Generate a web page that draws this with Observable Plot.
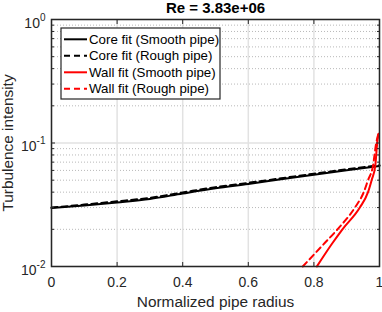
<!DOCTYPE html>
<html><head><meta charset="utf-8">
<script src="https://cdn.jsdelivr.net/npm/d3@7"></script>
<script src="https://cdn.jsdelivr.net/npm/@observablehq/plot@0.6"></script>
<style>body{margin:0;background:#fff;} #chart{width:382px;height:312px;}</style>
</head><body><div id="chart"></div>
<script>
const title = "Re = 3.83e+06";
const xLabel = "Normalized pipe radius";
const yLabel = "Turbulence intensity";
const xTicks = [0, 0.2, 0.4, 0.6, 0.8, 1];
const xTickLabels = ["0", "0.2", "0.4", "0.6", "0.8", "1"];
const yTicks = [0.01, 0.1, 1];
const yTickExponents = ["-2", "-1", "0"];
const yMinorTicks = [0.02,0.03,0.04,0.05,0.06,0.07,0.08,0.09,0.2,0.3,0.4,0.5,0.6,0.7,0.8,0.9];

const coreR = [0, 0.1, 0.2, 0.3, 0.4, 0.5, 0.6, 0.7, 0.8, 0.9, 1.0];
const coreSmooth = [0.0298, 0.0312, 0.0330, 0.0352, 0.0390, 0.0430, 0.0466, 0.0508, 0.0554, 0.0602, 0.0652];
const coreRough  = [0.0300, 0.0317, 0.0337, 0.0360, 0.0398, 0.0439, 0.0476, 0.0518, 0.0564, 0.0612, 0.0660];

const wallSmoothR = [0.809, 0.853, 0.887, 0.940, 0.965, 0.976, 0.987, 0.993, 0.997];
const wallSmooth  = [0.010, 0.015, 0.020, 0.030, 0.040, 0.050, 0.065, 0.100, 0.119];
const wallRoughR  = [0.766, 0.828, 0.872, 0.925, 0.952, 0.965, 0.980, 0.990, 0.996];
const wallRough   = [0.010, 0.015, 0.020, 0.030, 0.040, 0.050, 0.065, 0.100, 0.117];

const seriesNames = ["Core fit (Smooth pipe)", "Core fit (Rough pipe)", "Wall fit (Smooth pipe)", "Wall fit (Rough pipe)"];
const seriesColors = ["#000000", "#000000", "#ff0000", "#ff0000"];
const seriesDash = [null, "6,4", null, "6,4"];

const toPts = (xs, ys) => xs.map((x, i) => ({x, y: ys[i]}));
const series = [
  toPts(coreR, coreSmooth), toPts(coreR, coreRough),
  toPts(wallSmoothR, wallSmooth), toPts(wallRoughR, wallRough)
];

const font = "Liberation Sans, Arial, Helvetica, sans-serif";
const axisColor = "#262626";

const marks = [
  Plot.ruleY(yMinorTicks, {stroke: "#b8b8b8", strokeWidth: 1, strokeDasharray: "1,2"}),
  Plot.ruleX(xTicks, {stroke: "#e2e2e2", strokeWidth: 1.5}),
  Plot.ruleY(yTicks, {stroke: "#e2e2e2", strokeWidth: 1.5}),
];
series.forEach((pts, i) => {
  marks.push(Plot.line(pts, {x: "x", y: "y", stroke: seriesColors[i], strokeWidth: 2,
    strokeDasharray: seriesDash[i], curve: "monotone-x"}));
});
marks.push(
  Plot.frame({stroke: axisColor, strokeWidth: 1.5}),
  Plot.axisX({ticks: xTicks, anchor: "bottom", tickSize: -4, tickFormat: () => "", stroke: axisColor, label: null}),
  Plot.axisX({ticks: xTicks, anchor: "top", tickSize: -4, tickFormat: () => "", stroke: axisColor, label: null}),
  Plot.axisY({ticks: yTicks, anchor: "left", tickSize: -4, tickFormat: () => "", stroke: axisColor, label: null}),
  Plot.axisY({ticks: yTicks, anchor: "right", tickSize: -4, tickFormat: () => "", stroke: axisColor, label: null}),
  Plot.axisY({ticks: yMinorTicks, anchor: "left", tickSize: -3, tickFormat: () => "", stroke: axisColor, label: null}),
  Plot.axisY({ticks: yMinorTicks, anchor: "right", tickSize: -3, tickFormat: () => "", stroke: axisColor, label: null}),
  Plot.axisX({ticks: xTicks, anchor: "bottom", tickSize: 0, tickPadding: 11,
    tickFormat: d => xTickLabels[xTicks.indexOf(d)], fontSize: 14, fill: axisColor, label: null}),
  Plot.axisY({ticks: yTicks, anchor: "left", tickSize: 0, tickPadding: 6,
    tickFormat: d => "10^" + yTickExponents[yTicks.indexOf(d)], fontSize: 14, fill: axisColor, label: null}),
  Plot.text([title], {frameAnchor: "top", dy: -11.6, textAnchor: "middle", lineAnchor: "middle",
    fontSize: 15, fontWeight: "bold", fill: "#000", text: d => d}),
  Plot.text([xLabel], {frameAnchor: "bottom", dy: 35.5, textAnchor: "middle", lineAnchor: "middle",
    fontSize: 15.4, fill: axisColor, text: d => d}),
  Plot.text([yLabel], {frameAnchor: "left", dx: -43, rotate: -90, textAnchor: "middle", lineAnchor: "middle",
    fontSize: 15.4, fill: axisColor, text: d => d})
);

const chart = Plot.plot({
  width: 382, height: 312,
  marginLeft: 51, marginRight: 3, marginTop: 19, marginBottom: 46,
  style: {fontFamily: font, background: "#fff", overflow: "visible"},
  x: {domain: [0, 1], label: null},
  y: {type: "log", domain: [0.01, 1], label: null},
  marks
});
document.getElementById("chart").appendChild(chart);

// superscript exponents on y tick labels
d3.select(chart).selectAll('g[aria-label="y-axis tick label"] text').each(function() {
  const t = d3.select(this).text();
  const parts = t.split("^");
  if (parts.length === 2) {
    const sel = d3.select(this).text("");
    sel.append("tspan").attr("dy", 4).text(parts[0]);
    sel.append("tspan").attr("dy", -7).attr("font-size", 10).text(parts[1]);
  }
});

// legend (inside axes, top-left)
const svg = d3.select(chart);
const lg = svg.append("g").attr("font-family", font).attr("font-size", 13.3).attr("text-anchor", "start");
lg.append("rect").attr("x", 61).attr("y", 28).attr("width", 159).attr("height", 71)
  .attr("fill", "#fff").attr("stroke", axisColor).attr("stroke-width", 1.2);
seriesNames.forEach((name, i) => {
  const cy = 39.3 + i * 16.5;
  lg.append("line").attr("x1", 64).attr("x2", 87).attr("y1", cy).attr("y2", cy)
    .attr("stroke", seriesColors[i]).attr("stroke-width", 2)
    .attr("stroke-dasharray", seriesDash[i]);
  lg.append("text").attr("x", 89).attr("y", cy).attr("dy", "0.35em")
    .attr("text-anchor", "start").attr("fill", "#000").text(name);
});
</script>
</body></html>
